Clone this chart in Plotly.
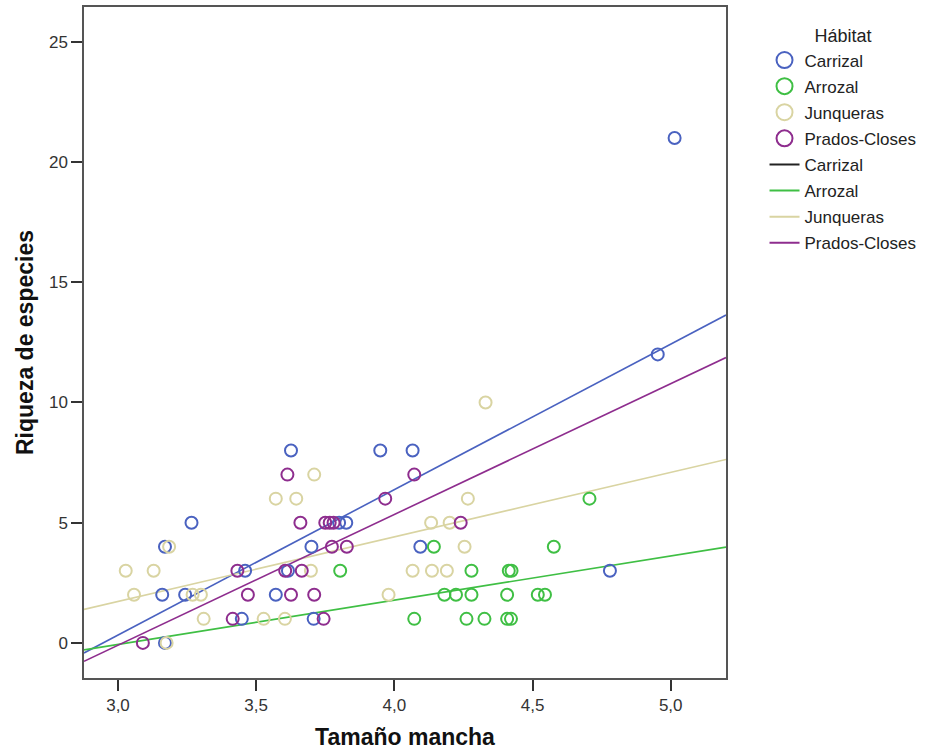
import numpy as np
import plotly.graph_objects as go

# ---- data ----
habitats = ["Carrizal", "Arrozal", "Junqueras", "Prados-Closes"]

carrizal_x = [3.626, 3.949, 4.066, 3.266, 3.170, 3.160, 3.243, 3.170, 3.460, 3.615,
              3.571, 3.448, 3.700, 3.800, 3.826, 4.094, 3.708, 4.780, 4.953, 5.014]
carrizal_y = [8, 8, 8, 5, 4, 2, 2, 0, 3, 3, 2, 1, 4, 5, 5, 4, 1, 3, 12, 21]

arrozal_x = [3.804, 4.072, 4.143, 4.181, 4.223, 4.261, 4.279, 4.279, 4.326, 4.408,
             4.414, 4.424, 4.408, 4.422, 4.519, 4.545, 4.577, 4.706]
arrozal_y = [3, 1, 4, 2, 2, 1, 3, 2, 1, 2, 3, 3, 1, 1, 2, 2, 4, 6]

junqueras_x = [3.028, 3.129, 3.058, 3.270, 3.300, 3.310, 3.176, 3.185, 3.527, 3.604,
               3.571, 3.645, 3.710, 3.698, 3.979, 4.066, 4.136, 4.190, 4.133, 4.200,
               4.254, 4.266, 4.330]
junqueras_y = [3, 3, 2, 2, 2, 1, 0, 4, 1, 1, 6, 6, 7, 3, 2, 3, 3, 3, 5, 5, 4, 6, 10]

prados_x = [3.613, 3.660, 3.432, 3.605, 3.665, 3.470, 3.626, 3.415, 3.090, 4.072,
            3.967, 3.750, 3.766, 3.780, 4.240, 3.774, 3.828, 3.710, 3.744]
prados_y = [7, 5, 3, 3, 3, 2, 2, 1, 0, 7, 6, 5, 5, 5, 5, 4, 4, 2, 1]

x_ticks = [3.0, 3.5, 4.0, 4.5, 5.0]
x_tick_labels = ["3,0", "3,5", "4,0", "4,5", "5,0"]
y_ticks = [0, 5, 10, 15, 20, 25]
y_tick_labels = ["0", "5", "10", "15", "20", "25"]

x_range = [2.877, 5.2]
y_range = [-1.46, 26.45]

colors = {"Carrizal": "#4a62c0", "Arrozal": "#3fbf44",
          "Junqueras": "#d9d4a2", "Prados-Closes": "#8e2d8e"}
legend_line_colors = {"Carrizal": "#222222", "Arrozal": "#3fbf44",
                      "Junqueras": "#d9d4a2", "Prados-Closes": "#8e2d8e"}

series = {
    "Carrizal": (carrizal_x, carrizal_y),
    "Arrozal": (arrozal_x, arrozal_y),
    "Junqueras": (junqueras_x, junqueras_y),
    "Prados-Closes": (prados_x, prados_y),
}

FONT = "Liberation Sans, Arial, sans-serif"

fig = go.Figure()

# regression lines (computed from data, drawn across the full x range)
for h in habitats:
    xs, ys = series[h]
    slope, icpt = np.polyfit(xs, ys, 1)
    lx = np.array(x_range)
    fig.add_trace(go.Scatter(x=lx, y=icpt + slope * lx, mode="lines",
                             line=dict(color=colors[h], width=1.6),
                             showlegend=False, hoverinfo="skip"))

# scatter points
for h in habitats:
    xs, ys = series[h]
    fig.add_trace(go.Scatter(x=xs, y=ys, mode="markers", name=h,
                             marker=dict(symbol="circle-open", size=12,
                                         color=colors[h],
                                         line=dict(width=2, color=colors[h])),
                             showlegend=False))

# legend entries (SPSS-style)
for i, h in enumerate(habitats):
    fig.add_trace(go.Scatter(x=[None], y=[None], mode="markers", name=h,
                             legendgroup="m" + str(i),
                             marker=dict(symbol="circle-open", size=16,
                                         color=colors[h],
                                         line=dict(width=2, color=colors[h]))))
for i, h in enumerate(habitats):
    fig.add_trace(go.Scatter(x=[None], y=[None], mode="lines", name=h,
                             legendgroup="l" + str(i),
                             line=dict(color=legend_line_colors[h], width=2)))

axis_common = dict(showgrid=False, zeroline=False, showline=True, mirror=True,
                   linecolor="#555555", linewidth=1.5, ticks="outside",
                   ticklen=11, tickwidth=2, tickcolor="#333333",
                   tickfont=dict(family=FONT, size=17, color="#333333"))

fig.update_layout(
    width=926, height=753,
    margin=dict(l=84, r=200, t=5, b=75),
    paper_bgcolor="white", plot_bgcolor="white",
    xaxis=dict(range=x_range, tickvals=x_ticks, ticktext=x_tick_labels,
               title=dict(text="Tamaño mancha", standoff=15,
                          font=dict(family=FONT, size=23,
                                    color="#111111", weight="bold")),
               **axis_common),
    yaxis=dict(range=y_range, tickvals=y_ticks, ticktext=y_tick_labels,
               title=dict(text="Riqueza de especies", standoff=9,
                          font=dict(family=FONT, size=23,
                                    color="#111111", weight="bold")),
               **axis_common),
    legend=dict(x=1.06, y=0.982, xanchor="left", yanchor="top",
                font=dict(family=FONT, size=17, color="#222222"),
                title=dict(text="Hábitat", side="top center",
                           font=dict(family=FONT, size=18, color="#222222")),
                tracegroupgap=1, itemwidth=30, bgcolor="rgba(0,0,0,0)"),
)

fig.write_html("out.html")
